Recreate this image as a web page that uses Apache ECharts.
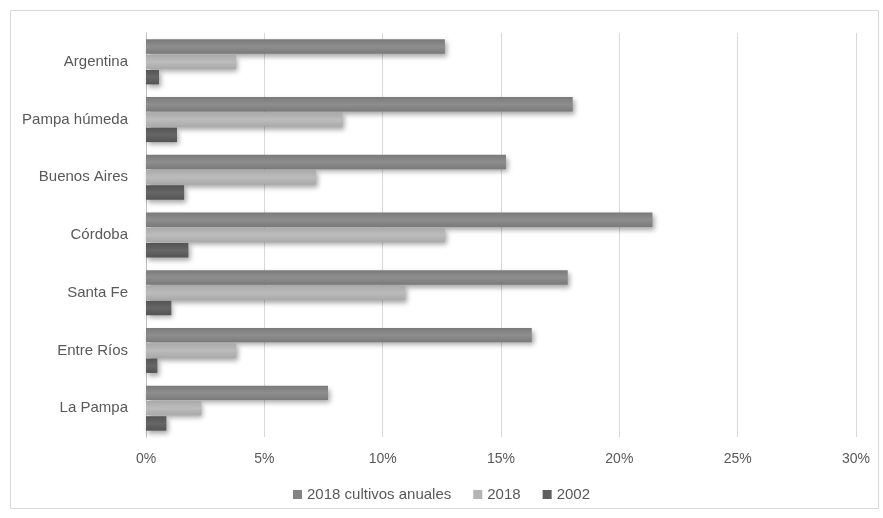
<!DOCTYPE html>
<html><head><meta charset="utf-8">
<script src="https://cdn.jsdelivr.net/npm/echarts@6/dist/echarts.min.js"></script>
<style>html,body{margin:0;padding:0;background:#fff}#c{width:883px;height:518px}</style>
</head><body><div id="c"></div>
<script>
const categories = ["Argentina","Pampa húmeda","Buenos Aires","Córdoba","Santa Fe","Entre Ríos","La Pampa"];
const cultivos2018 = [12.63, 18.03, 15.21, 21.4, 17.82, 16.3, 7.69];
const total2018 = [3.81, 8.3, 7.18, 12.63, 10.95, 3.81, 2.34];
const total2002 = [0.55, 1.31, 1.61, 1.79, 1.07, 0.48, 0.86];
const seriesNames = ["2018 cultivos anuales", "2018", "2002"];
const xTicks = [0, 5, 10, 15, 20, 25, 30];

const font = '"Liberation Sans", sans-serif';
function grad(c1, c2){
  return new echarts.graphic.LinearGradient(0,0,0,1,[{offset:0,color:c1},{offset:0.5,color:c2},{offset:1,color:c1}]);
}
const colors = [grad('#7a7a7a','#8e8e8e'), grad('#a9a9a9','#bcbcbc'), grad('#545454','#666666')];
const legendColors = ['#848484','#b4b4b4','#5e5e5e'];
const dataSets = [cultivos2018, total2018, total2002];

const chart = echarts.init(document.getElementById('c'), null, {renderer:'canvas'});
chart.setOption({
  animation:false,
  backgroundColor:'#fff',
  graphic:[{type:'rect', shape:{x:10.5,y:10.5,width:868,height:498}, style:{fill:'none', stroke:'#d9d9d9', lineWidth:1}, silent:true}],
  grid:{left:146, right:27, top:33, bottom:81},
  legend:{
    bottom:11, left:'center', itemWidth:9, itemHeight:9, itemGap:22, icon:'rect',
    textStyle:{fontFamily:font, fontSize:15, color:'#595959'},
    data: seriesNames.map((n,i)=>({name:n, itemStyle:{color:legendColors[i], shadowBlur:0}}))
  },
  xAxis:{
    type:'value', min:xTicks[0], max:xTicks[xTicks.length-1], interval:5,
    axisLabel:{formatter:'{value}%', fontFamily:font, fontSize:14, color:'#595959', margin:15},
    axisLine:{show:false}, axisTick:{show:false},
    splitLine:{lineStyle:{color:'#d9d9d9', width:1}}
  },
  yAxis:{
    type:'category', data:categories, inverse:true,
    axisLabel:{fontFamily:font, fontSize:15, color:'#595959', margin:18},
    axisLine:{show:true, lineStyle:{color:'#bfbfbf'}}, axisTick:{show:false}
  },
  series: seriesNames.map((n,i)=>({
    name:n, type:'bar', data:dataSets[i], barGap:'6%', barCategoryGap:'22%',
    itemStyle:{color:colors[i], shadowBlur:5, shadowOffsetX:2, shadowOffsetY:3, shadowColor:'rgba(0,0,0,0.35)'}
  }))
});
</script></body></html>
